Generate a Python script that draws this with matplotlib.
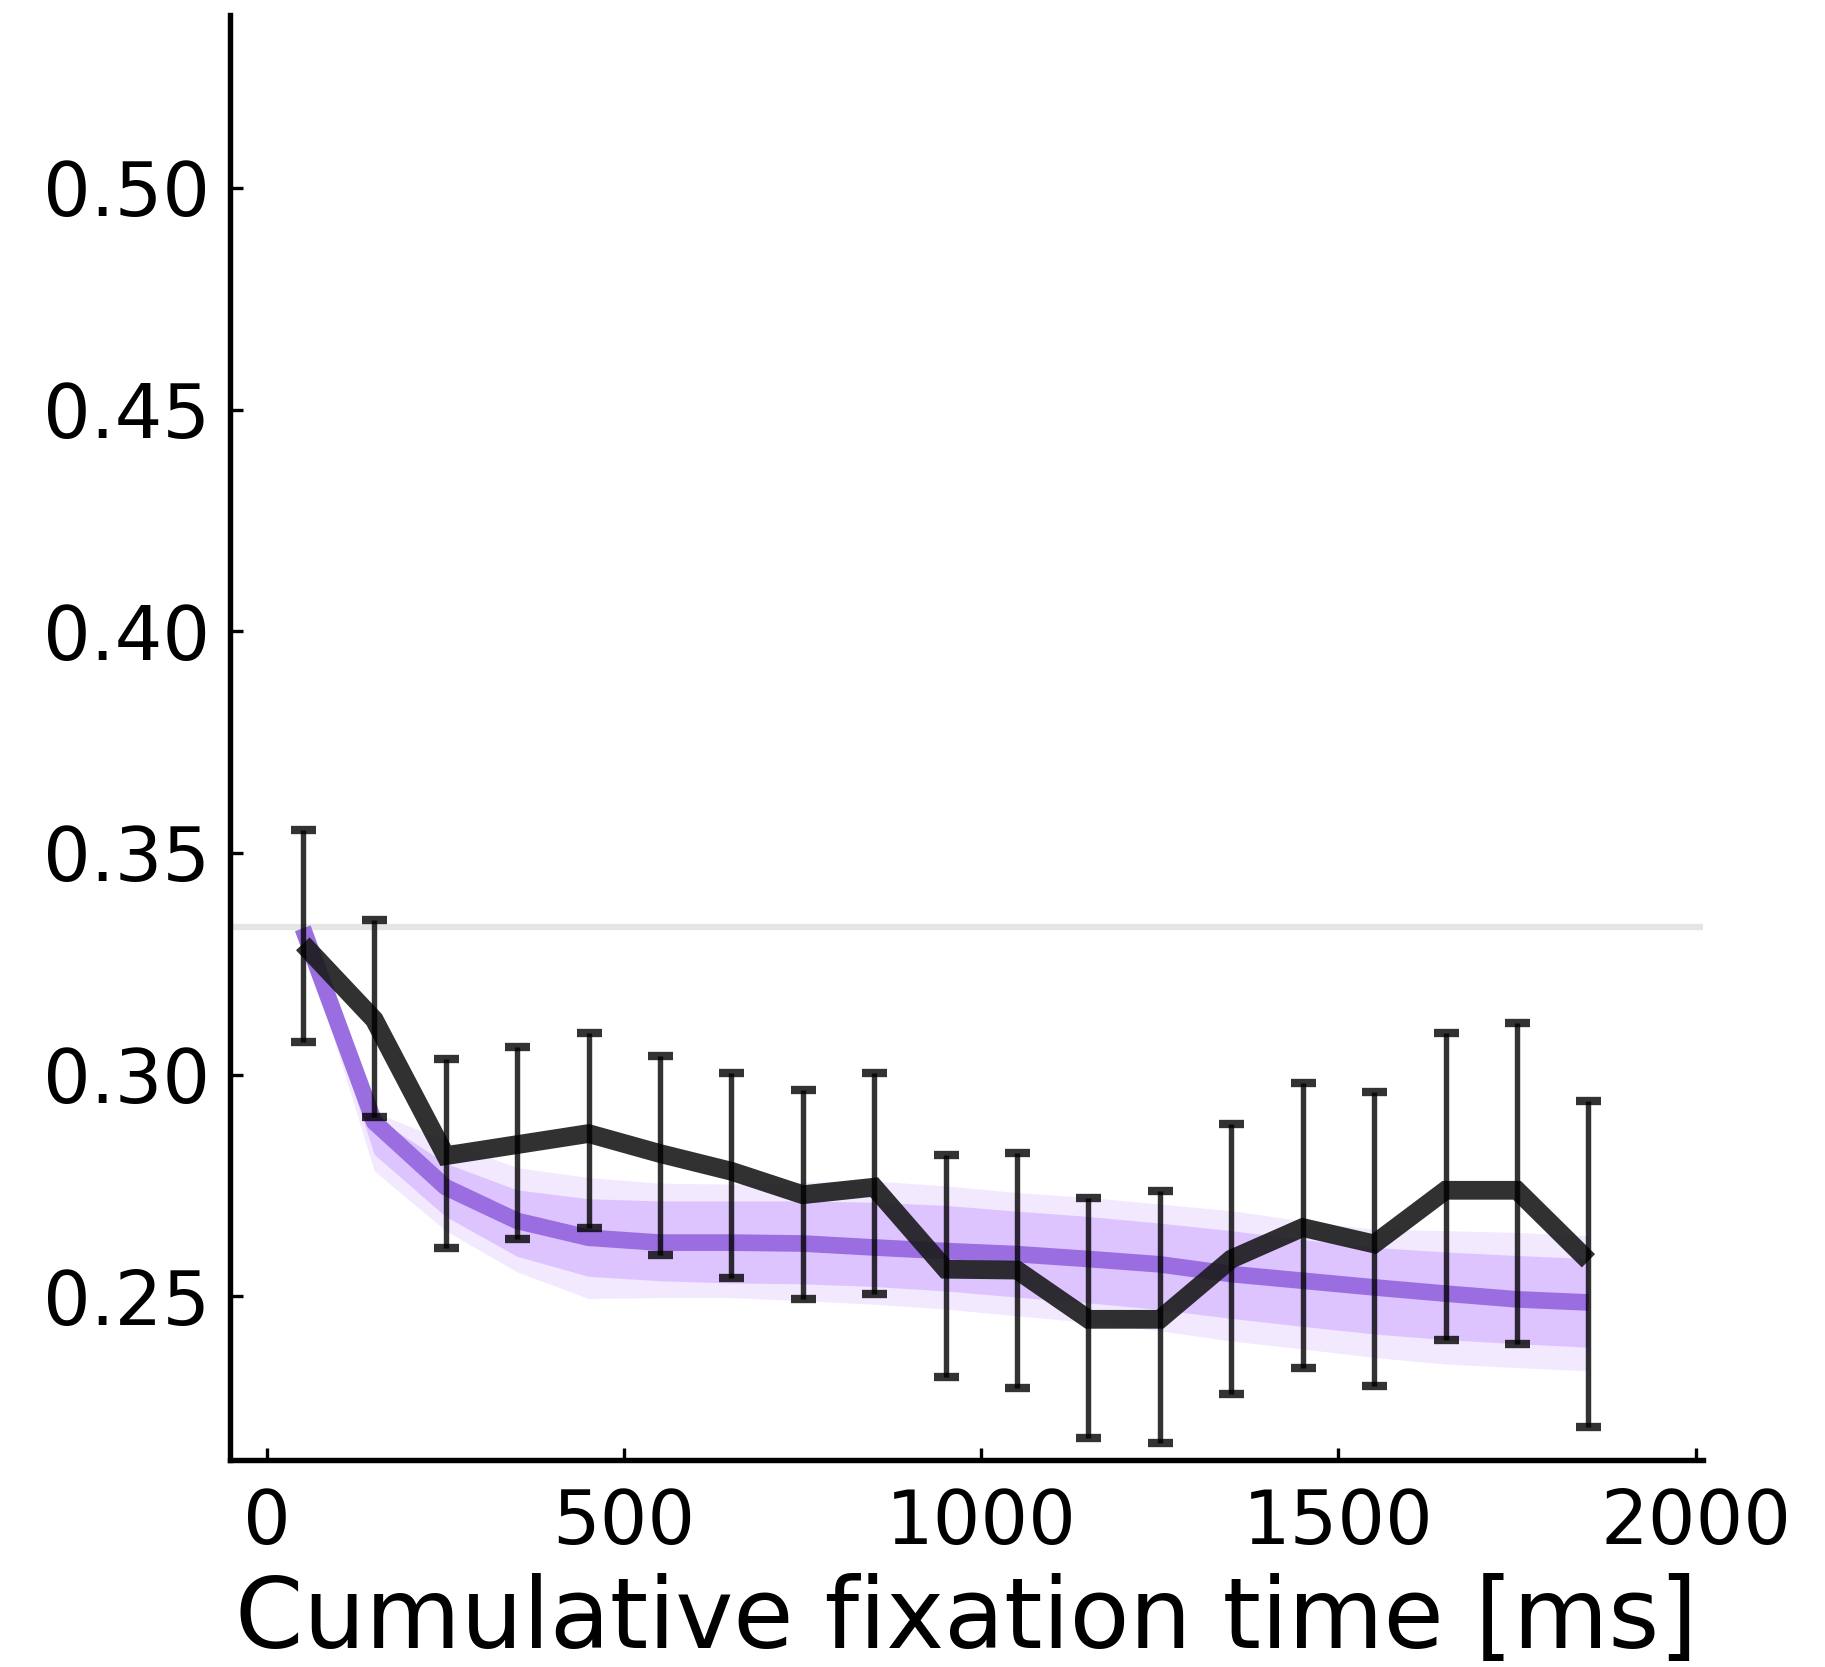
import matplotlib
matplotlib.use("Agg")
from matplotlib import pyplot as plt

# bin centres of cumulative fixation time (ms)
fix_time = [50, 150, 250, 350, 450, 550, 650, 750, 850, 950,
            1050, 1150, 1250, 1350, 1450, 1550, 1650, 1750, 1850]

# observed proportion with error bar limits
observed = [0.3295, 0.3124, 0.2817, 0.2842, 0.2867, 0.2822, 0.2782, 0.2729, 0.2746, 0.2561,
            0.2559, 0.2448, 0.2448, 0.2584, 0.2655, 0.2618, 0.2739, 0.2739, 0.2580]
obs_upper = [0.3552, 0.3349, 0.3035, 0.3062, 0.3094, 0.3041, 0.3003, 0.2965, 0.3003, 0.2818,
             0.2824, 0.2721, 0.2738, 0.2888, 0.2980, 0.2961, 0.3094, 0.3117, 0.2941]
obs_lower = [0.3074, 0.2904, 0.2609, 0.2629, 0.2654, 0.2592, 0.2542, 0.2494, 0.2505, 0.2317,
             0.2294, 0.2180, 0.2170, 0.2280, 0.2338, 0.2298, 0.2402, 0.2392, 0.2204]

# model mean and spread of the simulated runs
model_mean = [0.3330, 0.2893, 0.2746, 0.2670, 0.2632, 0.2621, 0.2621, 0.2619, 0.2610, 0.2602,
              0.2595, 0.2584, 0.2572, 0.2550, 0.2535, 0.2520, 0.2506, 0.2493, 0.2486]
sim_hi_outer = [0.3345, 0.2915, 0.2851, 0.2790, 0.2768, 0.2755, 0.2753, 0.2757, 0.2760, 0.2749,
                0.2734, 0.2723, 0.2708, 0.2693, 0.2670, 0.2651, 0.2648, 0.2644, 0.2636]
sim_lo_outer = [0.3310, 0.2783, 0.2648, 0.2555, 0.2495, 0.2497, 0.2497, 0.2490, 0.2482, 0.2471,
                0.2456, 0.2441, 0.2422, 0.2399, 0.2381, 0.2362, 0.2347, 0.2339, 0.2332]
sim_hi_inner = [0.3335, 0.2905, 0.2800, 0.2740, 0.2720, 0.2715, 0.2715, 0.2715, 0.2712, 0.2705,
                0.2692, 0.2680, 0.2665, 0.2648, 0.2628, 0.2610, 0.2600, 0.2592, 0.2585]
sim_lo_inner = [0.3320, 0.2820, 0.2680, 0.2590, 0.2545, 0.2535, 0.2530, 0.2528, 0.2522, 0.2512,
                0.2498, 0.2485, 0.2470, 0.2450, 0.2432, 0.2415, 0.2402, 0.2393, 0.2385]

chance = 1 / 3


def main():
    fig = plt.figure(figsize=(1825 / 300, 1667 / 300), dpi=300)
    ax = fig.add_axes([0.126, 0.124, 0.807, 0.867])

    ax.axhline(chance, color="#e5e5e5", lw=1.5, zorder=0)

    # simulated runs as a soft band
    ax.fill_between(fix_time, sim_lo_outer, sim_hi_outer, color="#c9a0ff", alpha=0.23, lw=0, zorder=1)
    ax.fill_between(fix_time, sim_lo_inner, sim_hi_inner, color="#c9a0ff", alpha=0.5, lw=0, zorder=1)
    ax.plot(fix_time, model_mean, color="#9a6ee0", lw=4.0, solid_capstyle="butt", zorder=2)

    # observed data
    yerr = [[o - l for o, l in zip(observed, obs_lower)],
            [u - o for o, u in zip(observed, obs_upper)]]
    ax.errorbar(fix_time, observed, yerr=yerr, fmt="none", ecolor="black", elinewidth=1.3,
                capsize=3, capthick=2.0, alpha=0.8, zorder=4)
    ax.plot(fix_time, observed, color="#1a1a1a", lw=4.5, alpha=0.9,
            solid_capstyle="butt", solid_joinstyle="miter", zorder=3)

    ax.set_xlim(-52, 2010)
    ax.set_ylim(0.213, 0.539)
    ax.set_xticks([0, 500, 1000, 1500, 2000])
    ax.set_yticks([0.25, 0.30, 0.35, 0.40, 0.45, 0.50])
    ax.set_yticklabels(["0.25", "0.30", "0.35", "0.40", "0.45", "0.50"])

    for side in ["top", "right"]:
        ax.spines[side].set_visible(False)
    for side in ["left", "bottom"]:
        ax.spines[side].set_linewidth(1.3)

    ax.tick_params(direction="in", length=3, width=0.8, labelsize=18)
    ax.tick_params(axis="y", pad=4.8)
    ax.tick_params(axis="x", pad=6.5)
    ax.set_xlabel("Cumulative fixation time [ms]", fontsize=23.5, labelpad=3)

    fig.savefig("out.png", dpi=300)


if __name__ == "__main__":
    main()
